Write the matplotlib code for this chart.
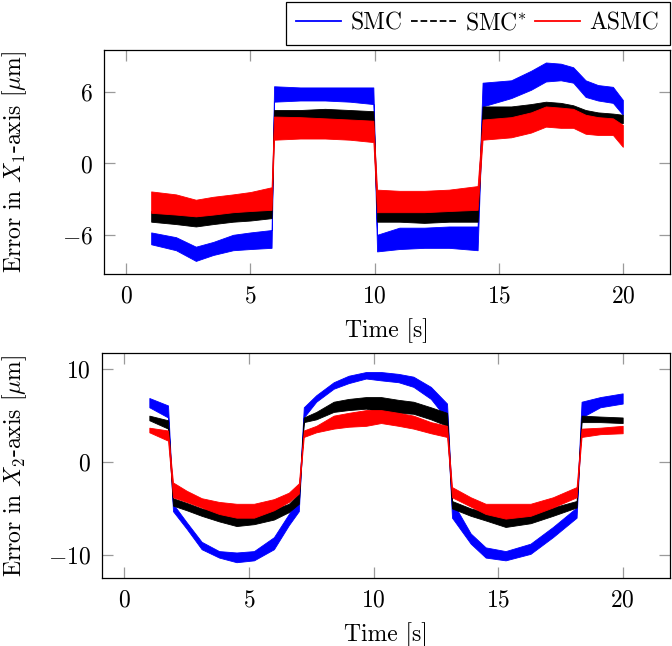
import matplotlib
matplotlib.use("Agg")
import numpy as np
import matplotlib.pyplot as plt
from matplotlib.lines import Line2D

plt.rcParams['font.family'] = 'serif'
plt.rcParams['font.serif'] = ['cmr10']
plt.rcParams['mathtext.fontset'] = 'cm'
plt.rcParams['axes.formatter.use_mathtext'] = True
plt.rcParams['axes.unicode_minus'] = True

#%% data: noisy tracking error read as lower/upper envelope of each band
# X1 axis
t_x1 = [1.0, 2.0, 2.8, 3.5, 4.3, 5.0, 5.85, 5.95, 7.0, 8.0, 9.0, 9.95, 10.1, 11.0, 12.0,
        13.0, 14.15, 14.35, 15.5, 16.3, 16.9, 17.5, 18.0, 18.5, 19.0, 19.6, 20.0]
smc_x1_lo = [-6.8, -7.3, -8.2, -7.7, -7.3, -7.2, -7.1, 5.2, 5.3, 5.3, 5.2, 5.0, -7.4, -7.2, -7.1,
             -7.1, -7.3, 4.8, 5.5, 6.2, 6.9, 7.0, 6.8, 5.6, 5.3, 5.1, 4.1]
smc_x1_hi = [-5.8, -6.2, -7.0, -6.6, -6.0, -5.8, -5.6, 6.5, 6.4, 6.4, 6.4, 6.4, -6.0, -5.4, -5.4,
             -5.3, -5.3, 6.8, 7.0, 7.8, 8.5, 8.4, 8.1, 7.0, 6.6, 6.45, 5.35]
smcs_x1_lo = [-4.9, -5.1, -5.3, -5.1, -4.9, -4.8, -4.6, 3.4, 3.4, 3.5, 3.4, 3.3, -4.9, -4.9, -5.0,
              -4.9, -4.9, 3.4, 3.6, 3.9, 4.1, 4.0, 3.7, 3.5, 3.4, 3.4, 3.4]
smcs_x1_hi = [-4.0, -4.1, -4.45, -4.2, -4.0, -3.9, -3.7, 4.5, 4.5, 4.6, 4.5, 4.4, -3.7, -3.7, -3.8,
              -3.7, -3.6, 4.8, 4.8, 5.0, 5.2, 5.1, 4.9, 4.5, 4.3, 4.2, 4.1]
asmc_x1_lo = [-4.15, -4.3, -4.45, -4.3, -4.1, -4.0, -3.9, 2.0, 2.1, 2.1, 2.0, 1.8, -4.1, -4.1, -4.1,
              -4.0, -3.9, 2.0, 2.2, 2.6, 3.1, 3.0, 3.0, 2.5, 2.4, 2.4, 1.4]
asmc_x1_hi = [-2.35, -2.6, -3.05, -2.8, -2.6, -2.4, -2.0, 3.95, 3.9, 3.8, 3.7, 3.6, -2.2, -2.3, -2.3,
              -2.2, -1.9, 3.7, 3.9, 4.3, 4.8, 4.7, 4.6, 4.1, 3.9, 3.8, 3.25]

# X2 axis
t_x2 = [1.0, 1.75, 1.95, 2.5, 3.1, 3.8, 4.5, 5.2, 6.0, 6.6, 7.0, 7.2, 7.7, 8.4, 9.0, 9.7,
        10.3, 11.0, 11.6, 12.3, 12.95, 13.15, 13.9, 14.5, 15.3, 16.3, 17.2, 18.15, 18.35, 19.1, 20.0]
smc_x2_lo = [5.9, 4.8, -5.3, -7.2, -9.4, -10.3, -10.8, -10.6, -9.4, -6.8, -5.3, 4.8, 6.5, 7.9, 8.5, 9.0,
             8.8, 8.6, 8.1, 6.8, 4.6, -6.0, -8.8, -10.3, -10.6, -9.9, -8.1, -6.0, 4.8, 5.9, 6.3]
smc_x2_hi = [6.9, 6.1, -4.5, -6.5, -8.6, -9.6, -9.75, -9.6, -8.1, -5.6, -3.8, 5.9, 7.2, 8.6, 9.3, 9.7,
             9.7, 9.5, 9.2, 8.1, 6.3, -4.2, -7.7, -9.2, -9.6, -8.8, -7.0, -4.9, 6.5, 7.0, 7.4]
smcs_x2_lo = [4.5, 3.6, -4.7, -5.2, -5.8, -6.4, -6.9, -6.7, -6.2, -5.4, -4.5, 4.3, 4.6, 5.4, 5.6, 5.75,
              5.4, 5.3, 5.2, 4.6, 3.9, -5.0, -5.8, -6.3, -7.0, -6.6, -5.8, -4.9, 4.3, 4.3, 4.2]
smcs_x2_hi = [5.0, 4.5, -3.9, -4.4, -5.0, -5.3, -5.6, -5.6, -5.1, -4.5, -3.4, 4.8, 5.4, 6.5, 6.8, 7.0,
              7.0, 6.7, 6.5, 5.9, 5.3, -4.2, -5.0, -5.4, -5.8, -5.4, -4.9, -4.2, 5.0, 4.9, 4.8]
asmc_x2_lo = [3.2, 2.3, -3.8, -4.3, -4.9, -5.6, -6.0, -6.0, -5.2, -4.3, -3.4, 2.7, 3.2, 3.6, 3.8, 3.9,
              4.2, 3.9, 3.6, 3.1, 2.7, -3.8, -4.8, -5.6, -6.1, -5.8, -4.9, -3.8, 2.7, 3.0, 3.1]
asmc_x2_hi = [3.7, 3.4, -2.2, -3.1, -3.9, -4.3, -4.5, -4.5, -4.0, -3.3, -2.3, 3.4, 3.9, 5.0, 5.3, 5.6,
              5.6, 5.3, 5.0, 4.3, 3.9, -2.7, -3.8, -4.5, -4.5, -4.5, -3.8, -2.7, 3.6, 3.7, 3.9]

labels = ['SMC', 'SMC$^{*}$', 'ASMC']
colors = ['blue', 'black', 'red']
styles = ['-', '--', '-']

FS = 17

#%% figure
fig = plt.figure(figsize=(6.72, 6.46), dpi=100)
ax1 = fig.add_axes([104/672, 1 - 274/646, 566/672, 224/646])
ax2 = fig.add_axes([102/672, 1 - 578/646, 568/672, 225/646])

def draw_bands(ax, t, bands):
    for (lo, hi), c in zip(bands, colors):
        ax.fill_between(t, lo, hi, color=c, lw=0.6, edgecolor=c)

def style_axis(ax, ylabel, yticks, ylim):
    ax.set_xlim(-0.9, 21.9)
    ax.set_ylim(*ylim)
    ax.set_xticks([0, 5, 10, 15, 20])
    ax.set_yticks(yticks)
    ax.tick_params(direction='in', length=8, width=0.9, color='#9a9a9a',
                   top=True, right=True, labelsize=FS, pad=8)
    for s in ax.spines.values():
        s.set_linewidth(0.9)
    ax.set_xlabel('Time [s]', fontsize=FS, labelpad=8)
    ax.set_ylabel(ylabel, fontsize=FS)

draw_bands(ax1, t_x1, [(smc_x1_lo, smc_x1_hi), (smcs_x1_lo, smcs_x1_hi), (asmc_x1_lo, asmc_x1_hi)])
draw_bands(ax2, t_x2, [(smc_x2_lo, smc_x2_hi), (smcs_x2_lo, smcs_x2_hi), (asmc_x2_lo, asmc_x2_hi)])

style_axis(ax1, r'Error in $X_1$-axis [$\mu$m]', [-6, 0, 6], (-9.3, 9.55))
style_axis(ax2, r'Error in $X_2$-axis [$\mu$m]', [-10, 0, 10], (-12.5, 11.75))
# both y labels share one column, as in the source layout
ax1.yaxis.set_label_coords((29 - 104) / 566, 0.5)
ax2.yaxis.set_label_coords((29 - 102) / 568, 0.5)

handles = [Line2D([0], [0], color=c, ls=s, lw=1.3) for c, s in zip(colors, styles)]
leg = fig.legend(handles, labels, loc='upper right', bbox_to_anchor=(670/672, 1 - 2/646),
                 ncol=3, fontsize=FS, frameon=True, fancybox=False, edgecolor='black',
                 framealpha=1, handlelength=1.9, handletextpad=0.4, columnspacing=0.35,
                 borderpad=0.45, borderaxespad=0)
leg.get_frame().set_linewidth(0.9)

fig.savefig('out.png', dpi=100)
